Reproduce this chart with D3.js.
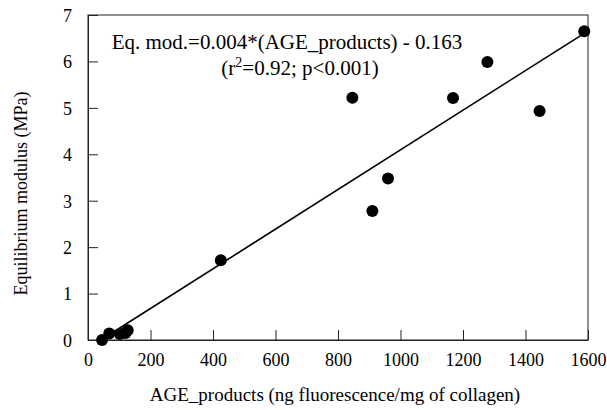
<!DOCTYPE html>
<html><head><meta charset="utf-8">
<script src="https://cdn.jsdelivr.net/npm/d3@7"></script>
<style>
html,body{margin:0;padding:0;background:#fff;}
svg{display:block;}
svg text{font-family:"Liberation Serif","Times New Roman",Times,"Nimbus Roman","DejaVu Serif",serif !important;}
</style></head>
<body><svg id="chart" width="607" height="410"></svg>
<script>
// Data
const ageProducts = [45, 68, 102, 120, 127, 425, 846, 910, 960, 1168, 1278, 1445, 1588];
const modulus     = [0.00, 0.14, 0.13, 0.15, 0.21, 1.72, 5.22, 2.78, 3.48, 5.21, 5.99, 4.93, 6.65];
const xTicks = [0, 200, 400, 600, 800, 1000, 1200, 1400, 1600];
const yTicks = [0, 1, 2, 3, 4, 5, 6, 7];
const fitSlope = 0.00427;
const fitIntercept = -0.175;
const eqLine1 = "Eq. mod.=0.004*(AGE_products) - 0.163";
const xTitle = "AGE_products (ng fluorescence/mg of collagen)";
const yTitle = "Equilibrium modulus (MPa)";

const svg = d3.select("#chart");
const m = {left: 88, right: 588, top: 15, bottom: 340};
const x = d3.scaleLinear().domain([0, 1600]).range([m.left, m.right]);
const y = d3.scaleLinear().domain([0, 7]).range([m.bottom, m.top]);

// frame
svg.append("rect").attr("x", m.left).attr("y", m.top)
  .attr("width", m.right - m.left).attr("height", m.bottom - m.top)
  .attr("fill", "none").attr("stroke", "#222").attr("stroke-width", 1);

const xAxis = svg.append("g").attr("transform", `translate(0,${m.bottom})`)
  .call(d3.axisBottom(x).tickValues(xTicks).tickFormat(d3.format("d"))
        .tickSizeInner(-10).tickSizeOuter(0).tickPadding(13));
const yAxis = svg.append("g").attr("transform", `translate(${m.left},0)`)
  .call(d3.axisLeft(y).tickValues(yTicks).tickFormat(d3.format("d"))
        .tickSizeInner(-10).tickSizeOuter(0).tickPadding(16));
[xAxis, yAxis].forEach(g => {
  g.select(".domain").attr("stroke", "#222");
  g.selectAll(".tick line").attr("stroke", "#222");
  g.selectAll(".tick text").attr("font-size", 18).attr("fill", "#000");
});
yAxis.selectAll(".tick text").attr("dy", "0.35em");

// regression line
const x0 = -fitIntercept / fitSlope;
const x1 = d3.max(ageProducts);
svg.append("line")
  .attr("x1", x(x0)).attr("y1", y(fitSlope * x0 + fitIntercept))
  .attr("x2", x(x1)).attr("y2", y(fitSlope * x1 + fitIntercept))
  .attr("stroke", "#000").attr("stroke-width", 1.6);

// points
svg.append("g").selectAll("circle").data(ageProducts).join("circle")
  .attr("cx", d => x(d)).attr("cy", (d, i) => y(modulus[i]))
  .attr("r", 6).attr("fill", "#000");

// annotation
svg.append("text").attr("x", 287).attr("y", 49).attr("text-anchor", "middle")
  .attr("font-size", 21).text(eqLine1);
const t2 = svg.append("text").attr("x", 300).attr("y", 75).attr("text-anchor", "middle")
  .attr("font-size", 21);
t2.append("tspan").text("(r");
t2.append("tspan").attr("dy", -8).attr("font-size", 14).text("2");
t2.append("tspan").attr("dy", 8).text("=0.92; p<0.001)");

// axis titles
svg.append("text").attr("x", 335).attr("y", 401)
  .attr("text-anchor", "middle").attr("font-size", 19).text(xTitle);
svg.append("text").attr("transform", `translate(27,${(m.top + m.bottom) / 2 + 16}) rotate(-90)`)
  .attr("text-anchor", "middle").attr("font-size", 18).text(yTitle);
</script></body></html>
